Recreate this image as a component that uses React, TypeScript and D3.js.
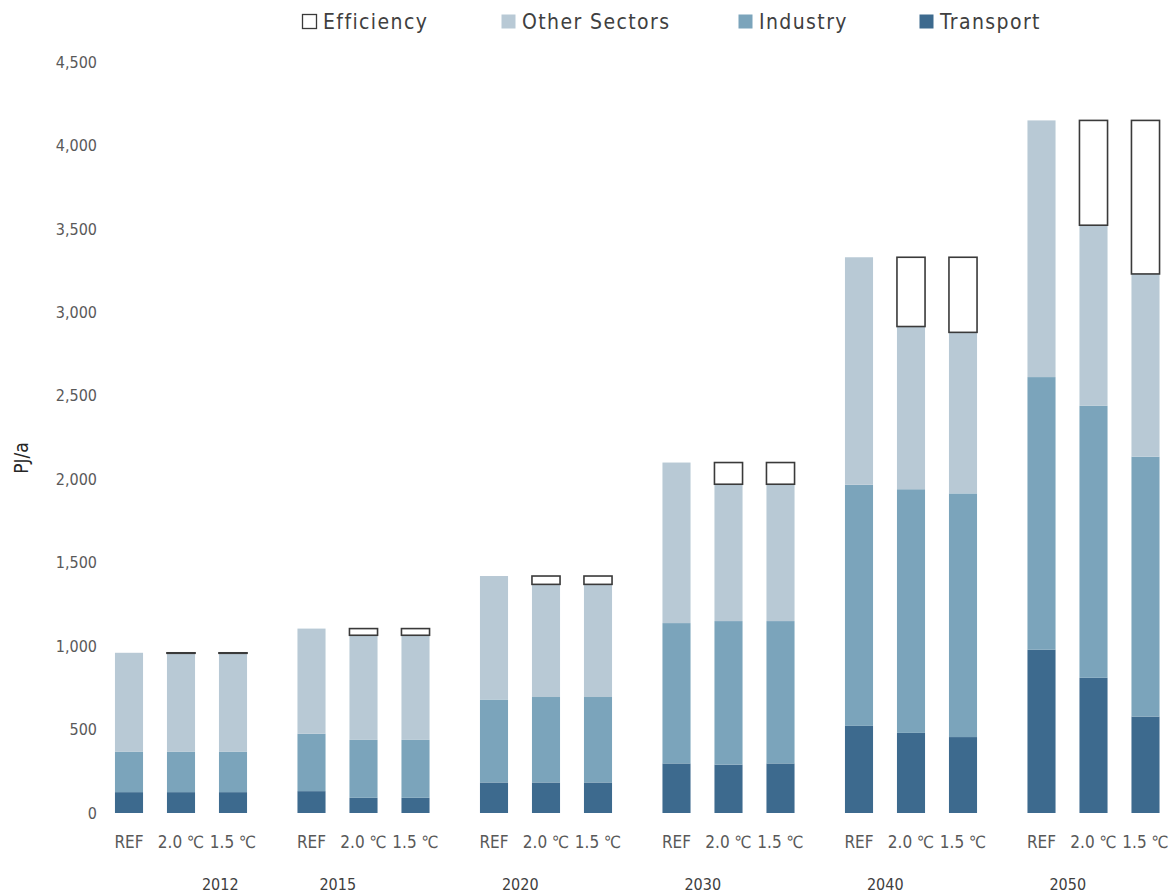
import React, { useEffect, useRef } from "react";
import * as d3 from "d3";

// categories
const years = ["2012", "2015", "2020", "2030", "2040", "2050"];
const scenarios = ["REF", "2.0 ℃", "1.5 ℃"];

// PJ/a, one value per year x scenario (REF, 2.0, 1.5)
const transport = [125, 125, 125, 131, 91, 91, 183, 183, 183, 297, 290, 297, 522, 480, 455, 978, 810, 578];
const industry = [243, 243, 243, 344, 347, 347, 497, 512, 512, 841, 860, 853, 1445, 1460, 1460, 1634, 1630, 1557];
const otherSectors = [592, 589, 589, 630, 627, 627, 740, 675, 675, 962, 820, 820, 1363, 975, 965, 1538, 1082, 1095];
const efficiency = [0, 3, 3, 0, 40, 40, 0, 50, 50, 0, 130, 130, 0, 415, 450, 0, 628, 920];

const yTicks = [0, 500, 1000, 1500, 2000, 2500, 3000, 3500, 4000, 4500];

const seriesKeys = ["transport", "industry", "other", "efficiency"];
const colors: Record<string, string> = {
  transport: "#3d6a8e",
  industry: "#7ba4bb",
  other: "#b8c9d5",
  efficiency: "#ffffff",
};
const legendItems = [
  { key: "efficiency", label: "Efficiency", x: 302 },
  { key: "other", label: "Other Sectors", x: 501 },
  { key: "industry", label: "Industry", x: 738 },
  { key: "transport", label: "Transport", x: 919 },
];

const FONT = "'Liberation Sans Narrow', 'DejaVu Sans Condensed', 'Liberation Sans', sans-serif";

export default function App() {
  const svgRef = useRef<SVGSVGElement>(null);

  useEffect(() => {
    const svg = d3.select(svgRef.current);
    svg.selectAll("*").remove();

    const rows = years.flatMap((yr, gi) =>
      scenarios.map((sc, si) => {
        const i = gi * 3 + si;
        return {
          year: yr,
          scenario: sc,
          transport: transport[i],
          industry: industry[i],
          other: otherSectors[i],
          efficiency: efficiency[i],
        };
      })
    );

    const y = d3.scaleLinear().domain([0, 4500]).range([813, 62]);
    const x0 = d3.scaleBand().domain(years).range([103, 103 + 6 * 182.5]);
    const x1 = d3
      .scaleBand()
      .domain(scenarios)
      .range([0, 156])
      .paddingInner(0.46)
      .paddingOuter(0.23);

    const stacked = d3.stack<any>().keys(seriesKeys)(rows);

    // bars
    const layers = svg.append("g");
    stacked.forEach((layer) => {
      const isEff = layer.key === "efficiency";
      layers
        .append("g")
        .selectAll("rect")
        .data(layer.filter((d) => d[1] - d[0] > 0))
        .join("rect")
        .attr("x", (d) => x0(d.data.year)! + x1(d.data.scenario)!)
        .attr("width", x1.bandwidth())
        .attr("y", (d) => y(d[1]))
        .attr("height", (d) => Math.max(0.5, y(d[0]) - y(d[1])))
        .attr("fill", colors[layer.key])
        .attr("stroke", isEff ? "#3a3a3a" : "none")
        .attr("stroke-width", isEff ? 1.6 : 0);
    });

    // y axis
    const yAxis = svg
      .append("g")
      .attr("transform", "translate(99,0)")
      .call(
        d3
          .axisLeft(y)
          .tickValues(yTicks)
          .tickFormat(d3.format(","))
          .tickSize(0)
          .tickPadding(2)
      );
    yAxis.select(".domain").remove();
    yAxis
      .selectAll("text")
      .attr("font-family", FONT)
      .attr("font-size", 16)
      .attr("fill", "#595959");

    svg
      .append("text")
      .attr("transform", "translate(28,458) rotate(-90)")
      .attr("text-anchor", "middle")
      .attr("font-family", FONT)
      .attr("font-size", 19)
      .attr("fill", "#262626")
      .text("PJ/a");

    // scenario labels
    svg
      .append("g")
      .selectAll("text")
      .data(rows)
      .join("text")
      .attr("x", (d) => x0(d.year)! + x1(d.scenario)! + x1.bandwidth() / 2)
      .attr("y", 848)
      .attr("text-anchor", "middle")
      .attr("font-family", FONT)
      .attr("font-size", 17)
      .attr("fill", "#595959")
      .text((d) => d.scenario);

    // year labels (first one sits right of its group, the rest slightly left)
    svg
      .append("g")
      .selectAll("text")
      .data(years)
      .join("text")
      .attr("x", (d, i) => x0(d)! + x0.bandwidth() / 2 - 39 + (i === 0 ? 65 : 0))
      .attr("y", 890)
      .attr("text-anchor", "middle")
      .attr("font-family", FONT)
      .attr("font-size", 16)
      .attr("fill", "#404040")
      .text((d) => d);

    // legend
    const lg = svg
      .append("g")
      .selectAll("g")
      .data(legendItems)
      .join("g")
      .attr("transform", (d) => `translate(${d.x},21)`);
    lg.append("rect")
      .attr("x", 0.5)
      .attr("y", -6.5)
      .attr("width", 14)
      .attr("height", 14)
      .attr("fill", (d) => colors[d.key])
      .attr("stroke", (d) => (d.key === "efficiency" ? "#3a3a3a" : "none"))
      .attr("stroke-width", 1.3);
    lg.append("text")
      .attr("x", 21)
      .attr("y", 8)
      .attr("font-family", FONT)
      .attr("font-size", 21)
      .attr("letter-spacing", 1.4)
      .attr("fill", "#404040")
      .text((d) => d.label);
  }, []);

  return (
    <svg
      ref={svgRef}
      width={1176}
      height={895}
      style={{ position: "absolute", left: 0, top: 0, background: "#fff" }}
    />
  );
}
